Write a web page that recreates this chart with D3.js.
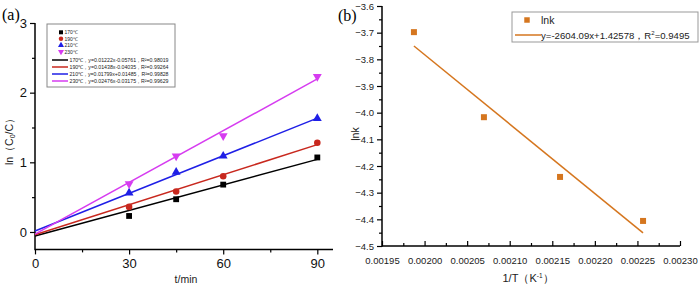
<!DOCTYPE html>
<html><head><meta charset="utf-8">
<script src="https://cdnjs.cloudflare.com/ajax/libs/d3/7.8.5/d3.min.js"></script>
<style>body{margin:0;background:#fff}svg{display:block}svg text{font-family:"Liberation Sans",Arial,sans-serif}svg text.serif{font-family:"Liberation Serif","Times New Roman",serif}</style>
</head><body><svg id="c" width="700" height="286"></svg>
<script>
// ---- Panel (a) data ----
const times = [30, 45, 60, 90];
const seriesNames = ["170℃", "190℃", "210℃", "230℃"];
const v170 = [0.23, 0.47, 0.68, 1.07];
const v190 = [0.36, 0.58, 0.80, 1.28];
const v210 = [0.56, 0.86, 1.09, 1.63];
const v230 = [0.69, 1.09, 1.38, 2.23];
const slopes = [0.01222, 0.01438, 0.01799, 0.02476];
const intercepts = [-0.05761, -0.04035, 0.01485, -0.03175];
const fitLabels = [
  "170℃，y=0.01222x-0.05761，R²=0.98019",
  "190℃，y=0.01438x-0.04035，R²=0.99264",
  "210℃，y=0.01799x+0.01485，R²=0.99828",
  "230℃，y=0.02476x-0.03175，R²=0.99629"];
const aXTicks = [0, 30, 60, 90];
const aYTicks = [0, 1, 2, 3];
// ---- Panel (b) data ----
const invT = [0.0019875, 0.0020697, 0.0021591, 0.0022566];
const lnk = [-3.698, -4.017, -4.241, -4.406];
const bSlope = -2604.09, bIntercept = 1.42578;
const bXTicks = [0.00195, 0.00200, 0.00205, 0.00210, 0.00215, 0.00220, 0.00225, 0.00230];
const bYTicks = [-3.6, -3.7, -3.8, -3.9, -4.0, -4.1, -4.2, -4.3, -4.4, -4.5];

const colors = ["#000000", "#c8281e", "#1f1fe6", "#d63cf0"];
const symbols = [d3.symbolSquare, d3.symbolCircle, d3.symbolTriangle, d3.symbolTriangle];
const svg = d3.select("#c");

// ===== Panel (a) =====
const xa = d3.scaleLinear().domain([0, 95]).range([35, 333]);
const ya = d3.scaleLinear().domain([-0.25, 3]).range([249.4, 23]);
const gA = svg.append("g");

gA.append("g").attr("transform", `translate(0,${ya(-0.25)})`)
  .call(d3.axisBottom(xa).tickValues(aXTicks).tickSize(5).tickPadding(4).tickFormat(d3.format("d")));
gA.append("g").attr("transform", `translate(0,${ya(-0.25)})`)
  .call(d3.axisBottom(xa).tickValues([15,45,75]).tickSize(3).tickFormat(""));
gA.append("g").attr("transform", `translate(${xa(0)},0)`)
  .call(d3.axisLeft(ya).tickValues(aYTicks).tickSize(5).tickPadding(3).tickFormat(d3.format("d")));
gA.append("g").attr("transform", `translate(${xa(0)},0)`)
  .call(d3.axisLeft(ya).tickValues([0.5,1.5,2.5]).tickSize(3).tickFormat(""));
gA.selectAll(".domain").remove();
gA.selectAll(".tick line").attr("stroke-width", 1.2);
gA.selectAll(".tick text").attr("font-size", 13).attr("fill", "#111");
gA.append("line").attr("x1", xa(0)).attr("x2", xa(95)).attr("y1", ya(-0.25)).attr("y2", ya(-0.25)).attr("stroke","#000").attr("stroke-width",1.5);
gA.append("line").attr("x1", xa(0)).attr("x2", xa(0)).attr("y1", ya(-0.25)+0.75).attr("y2", ya(3)).attr("stroke","#000").attr("stroke-width",1.5);

// fit lines
const allVals = [v170, v190, v210, v230];
slopes.forEach((s, i) => {
  gA.append("line")
    .attr("x1", xa(0)).attr("y1", ya(intercepts[i]))
    .attr("x2", xa(90)).attr("y2", ya(s * 90 + intercepts[i]))
    .attr("stroke", colors[i]).attr("stroke-width", 1.5);
});
// markers
allVals.forEach((vals, i) => {
  gA.selectAll(null).data(vals).enter().append("path")
    .attr("d", d3.symbol().type(symbols[i]).size(34))
    .attr("transform", (d, j) => `translate(${xa(times[j])},${ya(d)})${i===3?" rotate(180)":""}`)
    .attr("fill", colors[i]);
});

// legend (a)
const lgA = gA.append("g");
lgA.append("rect").attr("x", 47).attr("y", 24).attr("width", 128).attr("height", 63)
  .attr("fill", "#fff").attr("stroke", "#888").attr("stroke-width", 1);
seriesNames.forEach((n, i) => {
  const y = 32.3 + i * 6.5;
  lgA.append("path").attr("d", d3.symbol().type(symbols[i]).size(16))
    .attr("transform", `translate(61,${y})${i===3?" rotate(180)":""}`).attr("fill", colors[i]);
  lgA.append("text").attr("x", 64.5).attr("y", y + 1.8).attr("font-size", 5).attr("fill", "#222").text(n);
});
fitLabels.forEach((t, i) => {
  const y = 60 + i * 7;
  lgA.append("line").attr("x1", 52).attr("x2", 68).attr("y1", y).attr("y2", y)
    .attr("stroke", colors[i]).attr("stroke-width", 1.5);
  lgA.append("text").attr("x", 69.5).attr("y", y + 1.8).attr("font-size", 5.2).attr("fill", "#222")
    .attr("textLength", 99).attr("lengthAdjust", "spacingAndGlyphs").text(t);
});

// labels (a)
svg.append("text").attr("class", "serif").attr("x", 2).attr("y", 20).attr("font-size", 16).text("(a)");
const yl = svg.append("text").attr("transform", "translate(13,139) rotate(-90)")
  .attr("text-anchor", "middle").attr("font-size", 10.5).attr("fill", "#222");
yl.append("tspan").text("ln（C");
yl.append("tspan").attr("font-size", 7).attr("dy", 2).text("0");
yl.append("tspan").attr("dy", -2).text("/C）");
svg.append("text").attr("x", 186).attr("y", 283).attr("text-anchor", "middle").attr("font-size", 10.5).attr("fill", "#222").text("t/min");

// ===== Panel (b) =====
const orange = "#d5761f";
const xb = d3.scaleLinear().domain([0.00195, 0.0023]).range([382, 680]);
const yb = d3.scaleLinear().domain([-4.5, -3.6]).range([246, 6]);
const gB = svg.append("g");
gB.append("g").attr("transform", `translate(0,${yb(-4.5)})`)
  .call(d3.axisBottom(xb).tickValues(bXTicks).tickSize(-5).tickPadding(11).tickFormat(d3.format(".5f")));
gB.append("g").attr("transform", `translate(0,${yb(-4.5)})`)
  .call(d3.axisBottom(xb).tickValues(d3.range(7).map(i => 0.001975 + i * 0.00005)).tickSize(-3).tickFormat(""));
gB.append("g").attr("transform", `translate(${xb(0.00195)},0)`)
  .call(d3.axisLeft(yb).tickValues(bYTicks).tickSize(5).tickPadding(3).tickFormat(d3.format(".1f")));
gB.append("g").attr("transform", `translate(${xb(0.00195)},0)`)
  .call(d3.axisLeft(yb).tickValues(d3.range(9).map(i => -4.45 + i * 0.1)).tickSize(3).tickFormat(""));
gB.selectAll(".domain").remove();
gB.selectAll(".tick line").attr("stroke-width", 1.2);
gB.selectAll(".tick text").attr("font-size", 9.5).attr("fill", "#222");
gB.append("line").attr("x1", xb(0.00195)).attr("x2", xb(0.0023)).attr("y1", yb(-4.5)).attr("y2", yb(-4.5)).attr("stroke","#000").attr("stroke-width",1.5);
gB.append("line").attr("x1", xb(0.00195)).attr("x2", xb(0.00195)).attr("y1", yb(-4.5)+0.75).attr("y2", yb(-3.6)).attr("stroke","#000").attr("stroke-width",1.5);

gB.append("line")
  .attr("x1", xb(invT[0])).attr("y1", yb(bSlope * invT[0] + bIntercept))
  .attr("x2", xb(invT[3])).attr("y2", yb(bSlope * invT[3] + bIntercept))
  .attr("stroke", orange).attr("stroke-width", 1.5);
gB.selectAll(null).data(lnk).enter().append("path")
  .attr("d", d3.symbol().type(d3.symbolSquare).size(36))
  .attr("transform", (d, i) => `translate(${xb(invT[i])},${yb(d)})`)
  .attr("fill", orange);

// legend (b)
gB.append("rect").attr("x", 512).attr("y", 12).attr("width", 186).attr("height", 30)
  .attr("fill", "#fff").attr("stroke", "#999").attr("stroke-width", 1);
gB.append("path").attr("d", d3.symbol().type(d3.symbolSquare).size(30))
  .attr("transform", "translate(527,20)").attr("fill", orange);
gB.append("text").attr("x", 541).attr("y", 24).attr("font-size", 10.5).attr("fill", "#222").text("lnk");
gB.append("line").attr("x1", 515).attr("x2", 541).attr("y1", 35).attr("y2", 35).attr("stroke", orange).attr("stroke-width", 1.5);
const lt = gB.append("text").attr("x", 541).attr("y", 39).attr("font-size", 9.6).attr("fill", "#222");
lt.append("tspan").text("y=-2604.09x+1.42578，R");
lt.append("tspan").attr("font-size", 6).attr("dy", -4).text("2");
lt.append("tspan").attr("dy", 4).text("=0.9495");

svg.append("text").attr("class", "serif").attr("x", 338).attr("y", 21).attr("font-size", 16).text("(b)");
svg.append("text").attr("transform", "translate(359,134) rotate(-90)").attr("text-anchor", "middle")
  .attr("font-size", 10.5).attr("fill", "#222").text("lnk");
const xl = svg.append("text").attr("x", 528).attr("y", 282).attr("text-anchor", "middle").attr("font-size", 11).attr("fill", "#222");
xl.append("tspan").text("1/T（K");
xl.append("tspan").attr("font-size", 6.5).attr("dy", -4).text("-1");
xl.append("tspan").attr("dy", 4).text("）");
</script></body></html>
